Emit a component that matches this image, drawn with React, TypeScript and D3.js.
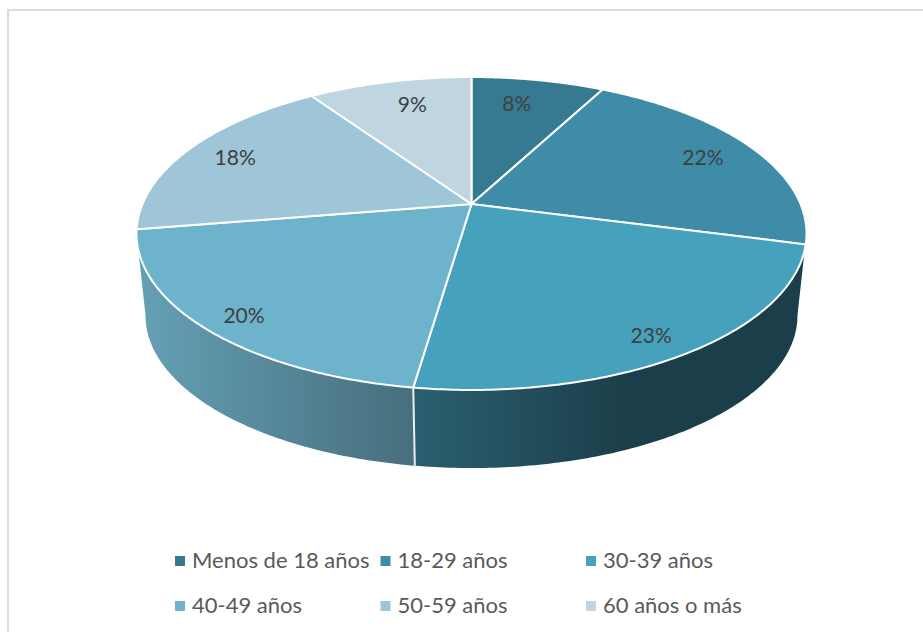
import React from "react";
import * as d3 from "d3";

const categories = ["Menos de 18 años", "18-29 años", "30-39 años", "40-49 años", "50-59 años", "60 años o más"];
const values = [7.7, 21.4, 23.2, 20.1, 18.1, 9.5];
const percentLabels = ["8%", "22%", "23%", "20%", "18%", "9%"];
const topColors = ["#357a90", "#3f8ca8", "#45a1bc", "#6db3cc", "#9ec6d8", "#bfd6e1"];
const labelAngleNudge = [-2.1, 0, 1.5, -1.5, 0, 1.8];
const labelRadius = [0.773, 0.816, 0.885, 0.89, 0.83, 0.778];

const W = 923, H = 632;
const cx = 471.5, cy = 204;
const a = 329, b = 150.9, k = 0.1885;
const rimCy = 234, sideCy = 316, shrink = 0.973, shrinkY = 0.975;
const FONT = "Lato, 'Open Sans', sans-serif";

type P = [number, number];
const project = (t: number, r = 1): P => {
  const u = r * Math.sin(t), v = -r * Math.cos(t);
  const d = 1 - k * v;
  return [cx + (a * u) / d, cy + (b * v) / d];
};
const lower = (t: number): P => {
  const [x, y] = project(t);
  return [cx + (x - cx) * shrink, sideCy + (y - rimCy) * shrinkY];
};
const line = d3.line<P>();
const sample = (t0: number, t1: number, f: (t: number) => P) =>
  d3.range(0, 121).map((i) => f(t0 + ((t1 - t0) * i) / 120));

const colorScale = d3.scaleOrdinal<string, string>().domain(categories).range(topColors);
const arcs = d3.pie<number>().sort(null)(values);

const leftExtreme = 2 * Math.PI - Math.acos(-k);
const rightExtreme = Math.acos(-k);
const seam = arcs[2].endAngle;

const sidePath = (t0: number, t1: number) =>
  line([...sample(t0, t1, project), ...sample(t1, t0, lower)]) + "Z";

const legendX = d3.scalePoint<number>().domain([0, 1, 2]).range([175, 586]);
const legendY = d3.scalePoint<number>().domain([0, 1]).range([561, 606]);

export default function App() {
  return (
    <svg width={W} height={H} viewBox={`0 0 ${W} ${H}`} style={{ position: "fixed", left: 0, top: 0, background: "#fff" }}>
      <defs>
        <linearGradient id="sideRight" gradientUnits="userSpaceOnUse" x1={415} x2={625} y1={0} y2={0}>
          <stop offset="0" stopColor="#2a5f6f" />
          <stop offset="1" stopColor="#1b3f4a" />
        </linearGradient>
        <linearGradient id="sideLeft" gradientUnits="userSpaceOnUse" x1={140} x2={415} y1={0} y2={0}>
          <stop offset="0" stopColor="#64a0b5" />
          <stop offset="1" stopColor="#476e7d" />
        </linearGradient>
      </defs>
      <rect x={8} y={10} width={W + 20} height={H + 20} fill="#fff" stroke="#dcdcdc" strokeWidth={2} />

      <path d={sidePath(rightExtreme, seam)} fill="url(#sideRight)" />
      <path d={sidePath(seam, leftExtreme)} fill="url(#sideLeft)" />
      <path d={line([lower(seam), project(seam)]) ?? ""} stroke="#e8eef0" strokeWidth={2} fill="none" />

      {arcs.map((s, i) => (
        <path
          key={categories[i]}
          d={line([[cx, cy], ...sample(s.startAngle, s.endAngle, project)]) + "Z"}
          fill={colorScale(categories[i])}
          stroke="#fff"
          strokeWidth={2}
          strokeLinejoin="round"
        />
      ))}

      {arcs.map((s, i) => {
        const mid = (s.startAngle + s.endAngle) / 2 + (labelAngleNudge[i] * Math.PI) / 180;
        const [x, y] = project(mid, labelRadius[i]);
        return (
          <text key={i} x={x} y={y} dy="0.35em" textAnchor="middle" fontFamily={FONT} fontSize={21} fill="#404040">
            {percentLabels[i]}
          </text>
        );
      })}

      {categories.map((c, i) => {
        const x = legendX(i % 3)!;
        const y = legendY(Math.floor(i / 3))!;
        return (
          <g key={c}>
            <rect x={x} y={y - 5} width={10} height={10} fill={colorScale(c)} />
            <text x={x + 17} y={y - 0.5} dy="0.35em" fontFamily={FONT} fontSize={22} fill="#595959">
              {c}
            </text>
          </g>
        );
      })}
    </svg>
  );
}
